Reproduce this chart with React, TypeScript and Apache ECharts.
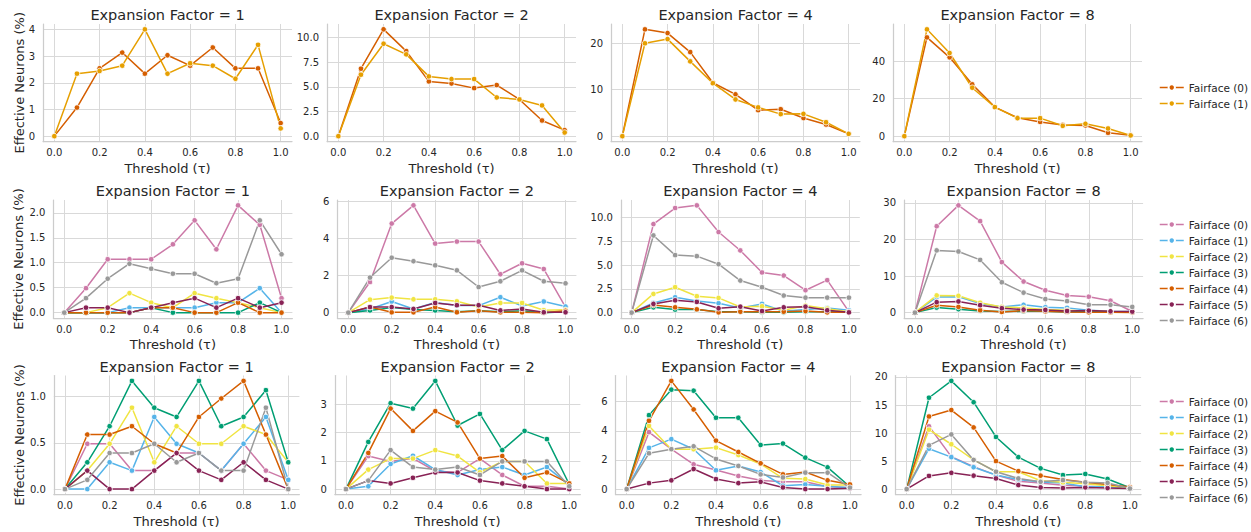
import React, { useEffect, useRef } from "react";
import * as echarts from "echarts";

// Threshold values (τ) shared by every panel
const thresholds = [0, 0.1, 0.2, 0.3, 0.4, 0.5, 0.6, 0.7, 0.8, 0.9, 1.0];
const expansionFactors = [1, 2, 4, 8];

const twoGroupNames = ["Fairface (0)", "Fairface (1)"];
const sevenGroupNames = [
  "Fairface (0)",
  "Fairface (1)",
  "Fairface (2)",
  "Fairface (3)",
  "Fairface (4)",
  "Fairface (5)",
  "Fairface (6)",
];
const twoGroupColors = ["#d55e00", "#e69f00"];
const sevenGroupColors = ["#cc79a7", "#56b4e9", "#f0e442", "#009e73", "#d55e00", "#882255", "#999999"];

// Row 1: two groups, one array per group
const row1Ef1 = [
  [0, 1.07, 2.54, 3.13, 2.34, 3.03, 2.64, 3.32, 2.54, 2.54, 0.49],
  [0, 2.34, 2.44, 2.64, 4.0, 2.34, 2.73, 2.64, 2.15, 3.42, 0.29],
];
const row1Ef2 = [
  [0, 6.85, 10.85, 8.64, 5.56, 5.35, 4.88, 5.19, 3.73, 1.59, 0.61],
  [0, 6.24, 9.39, 8.31, 6.07, 5.8, 5.8, 3.93, 3.73, 3.12, 0.37],
];
const row1Ef4 = [
  [0, 23.0, 22.2, 18.1, 11.5, 9.0, 5.6, 5.8, 3.9, 2.5, 0.5],
  [0, 20.0, 20.9, 16.1, 11.4, 7.9, 6.2, 4.75, 4.8, 3.0, 0.5],
];
const row1Ef8 = [
  [0, 52.6, 42.0, 27.6, 15.5, 9.8, 7.6, 6.0, 5.7, 1.8, 0.5],
  [0, 56.9, 44.3, 25.8, 15.5, 9.6, 9.6, 5.5, 6.6, 4.1, 0.4],
];

// Row 2: seven groups
const row2Ef1 = [
  [0, 0.49, 1.07, 1.07, 1.07, 1.37, 1.85, 1.27, 2.15, 1.76, 0.29],
  [0, 0, 0, 0.1, 0.1, 0.1, 0.1, 0.2, 0.2, 0.49, 0],
  [0, 0, 0.1, 0.39, 0.2, 0.1, 0.39, 0.29, 0.2, 0.1, 0],
  [0, 0, 0, 0, 0.1, 0, 0, 0, 0, 0.2, 0],
  [0, 0, 0, 0, 0.1, 0.1, 0, 0, 0.2, 0, 0],
  [0, 0.1, 0.1, 0, 0.1, 0.2, 0.29, 0.1, 0.29, 0.1, 0.2],
  [0, 0.29, 0.68, 0.98, 0.88, 0.78, 0.78, 0.59, 0.68, 1.85, 1.17],
];
const row2Ef2 = [
  [0, 1.65, 4.8, 5.78, 3.72, 3.83, 3.83, 2.07, 2.66, 2.35, 0.3],
  [0, 0.2, 0.6, 0.2, 0.55, 0.38, 0.38, 0.83, 0.36, 0.6, 0.33],
  [0, 0.7, 0.81, 0.72, 0.72, 0.61, 0.3, 0.52, 0.52, 0.13, 0.15],
  [0, 0.12, 0.27, 0.17, 0.12, 0.05, 0.1, 0.05, 0.1, 0, 0.05],
  [0, 0.3, 0.02, 0.02, 0.3, 0.02, 0.1, 0.02, 0.02, 0, 0.1],
  [0, 0.3, 0.3, 0.2, 0.52, 0.4, 0.4, 0.12, 0.2, 0.02, 0.02],
  [0, 1.89, 2.96, 2.77, 2.55, 2.28, 1.38, 1.69, 2.28, 1.69, 1.58],
];
const row2Ef4 = [
  [0, 9.33, 11.02, 11.3, 8.49, 6.55, 4.23, 3.91, 2.36, 3.42, 0.1],
  [0, 1.02, 1.62, 1.23, 0.99, 0.49, 0.92, 0.14, 0.32, 0.49, 0.25],
  [0, 1.97, 2.68, 1.73, 1.55, 0.6, 0.67, 0.25, 0.74, 0.42, 0.1],
  [0, 0.56, 0.32, 0.32, 0.1, 0.1, 0.03, 0.03, 0.1, 0.1, 0.03],
  [0, 0.8, 0.56, 0.35, 0.03, 0.1, 0.1, 0.1, 0.17, 0.03, 0.03],
  [0, 0.92, 1.3, 1.13, 0.46, 0.63, 0.17, 0.56, 0.63, 0.25, 0.03],
  [0, 8.13, 6.06, 5.95, 5.1, 3.38, 2.68, 1.8, 1.58, 1.58, 1.58],
];
const row2Ef8 = [
  [0, 23.6, 29.3, 25.0, 13.8, 8.5, 6.1, 4.7, 4.35, 3.25, 0.3],
  [0, 4.26, 4.35, 2.5, 1.57, 2.13, 1.48, 1.3, 0.65, 0.37, 0.28],
  [0, 4.7, 4.6, 2.7, 1.57, 1.3, 0.83, 0.65, 0.37, 0.28, 0.2],
  [0, 1.39, 0.93, 0.46, 0.28, 0.37, 0.37, 0.2, 0.28, 0.1, 0.1],
  [0, 2.04, 1.57, 0.65, 0.2, 0.55, 0.37, 0.2, 0.1, 0.1, 0.05],
  [0, 2.87, 3.05, 2.04, 1.2, 0.83, 0.74, 0.46, 0.55, 0.37, 0.28],
  [0, 17.0, 16.7, 14.4, 8.3, 5.46, 3.7, 3.15, 2.13, 2.13, 1.57],
];

// Row 3: seven groups
const row3Ef1 = [
  [0, 0.49, 0.49, 0.2, 0.2, 0.39, 0.39, 0.2, 0.49, 0.2, 0.1],
  [0, 0, 0.29, 0.2, 0.78, 0.49, 0.39, 0.2, 0.49, 0.78, 0.1],
  [0, 0.2, 0.49, 0.88, 0.29, 0.68, 0.49, 0.49, 0.68, 0.59, 0.29],
  [0, 0.29, 0.68, 1.17, 0.88, 0.78, 1.17, 0.68, 0.78, 1.07, 0.29],
  [0, 0.59, 0.59, 0.68, 0.49, 0.39, 0.78, 0.98, 1.17, 0.59, 0],
  [0, 0.2, 0, 0, 0.2, 0.39, 0.2, 0.1, 0.29, 0.1, 0],
  [0, 0.1, 0.39, 0.39, 0.49, 0.29, 0.39, 0.2, 0.2, 0.88, 0],
];
const row3Ef2 = [
  [0, 1.17, 0.98, 1.09, 0.64, 0.59, 1.08, 0.5, 0.1, 0.1, 0],
  [0, 0.1, 0.89, 1.18, 0.69, 0.5, 0.69, 0.78, 0.5, 0.78, 0.14],
  [0, 0.69, 1.08, 1.08, 1.38, 1.17, 0.59, 0.98, 0.98, 0.2, 0.2],
  [0, 1.67, 3.04, 2.85, 3.83, 2.25, 2.66, 1.38, 2.06, 1.77, 0.17],
  [0, 1.28, 2.85, 2.06, 2.76, 2.36, 1.08, 1.17, 0.4, 0.59, 0.2],
  [0, 0.3, 0.2, 0.4, 0.59, 0.59, 0.3, 0.2, 0.1, 0, 0],
  [0, 0.3, 1.38, 0.78, 0.69, 0.78, 0.5, 0.98, 0.98, 0.98, 0.1],
];
const row3Ef4 = [
  [0, 3.91, 2.74, 1.7, 1.31, 0.9, 0.6, 0.5, 0.5, 0.16, 0.1],
  [0, 2.83, 3.43, 2.74, 1.29, 1.59, 1.17, 0.23, 0.32, 0.2, 0.1],
  [0, 4.34, 2.74, 2.74, 2.85, 2.34, 1.72, 0.74, 0.69, 0.28, 0.28],
  [0, 5.08, 6.83, 6.76, 4.9, 4.9, 3.03, 3.13, 2.16, 1.49, 0.16],
  [0, 4.69, 7.43, 5.47, 3.33, 2.55, 1.77, 1.01, 1.17, 0.6, 0.32],
  [0, 0.41, 0.6, 1.38, 0.69, 0.41, 0.5, 0.11, 0, 0, 0.05],
  [0, 2.46, 2.74, 2.94, 2.07, 1.59, 1.01, 0.8, 1.13, 1.13, 0.1],
];
const row3Ef8 = [
  [0, 11.2, 5.8, 4.0, 2.5, 1.4, 1.1, 0.7, 0.5, 0.36, 0.1],
  [0, 7.2, 5.7, 3.9, 2.5, 1.7, 1.26, 1.1, 0.42, 0.42, 0.1],
  [0, 10.6, 8.0, 5.2, 3.1, 3.1, 1.5, 1.2, 0.96, 0.6, 0.24],
  [0, 16.3, 19.3, 15.5, 9.3, 5.7, 3.7, 2.5, 2.7, 1.8, 0.24],
  [0, 12.95, 14.1, 11.0, 5.0, 3.2, 2.4, 1.7, 1.2, 0.84, 0.36],
  [0, 2.35, 2.9, 2.4, 1.9, 0.72, 0.3, 0.18, 0.3, 0.18, 0.1],
  [0, 7.8, 9.75, 5.2, 3.1, 1.9, 1.3, 1.6, 1.2, 1.1, 0.1],
];

// Tick labels
const xTickLabels = ["0.0", "0.2", "0.4", "0.6", "0.8", "1.0"];
const yTickLabelsRow1 = [
  ["0", "1", "2", "3", "4"],
  ["0.0", "2.5", "5.0", "7.5", "10.0"],
  ["0", "10", "20"],
  ["0", "20", "40"],
];
const yTickLabelsRow2 = [
  ["0.0", "0.5", "1.0", "1.5", "2.0"],
  ["0", "2", "4", "6"],
  ["0.0", "2.5", "5.0", "7.5", "10.0"],
  ["0", "10", "20", "30"],
];
const yTickLabelsRow3 = [
  ["0.0", "0.5", "1.0"],
  ["0", "1", "2", "3"],
  ["0", "2", "4", "6"],
  ["0", "5", "10", "15", "20"],
];

// Layout: each row of panels has its own column positions
const FONT = "DejaVu Sans";
const TEXT = "#262626";
const GRID = "#d9d9d9";
const SPINE = "#cccccc";
const ROW_LAYOUT = [
  { lefts: [43, 327, 611, 893], width: 249, top: 24, height: 117.5, yNameGap: 17.5, titleY: 15, legendTop: 77 },
  { lefts: [53.4, 337.4, 620.8, 904.1], width: 239, top: 200, height: 118, yNameGap: 28, titleY: 191, legendTop: 214 },
  { lefts: [53.8, 334.8, 615.5, 895.5], width: 245.6, top: 375.5, height: 119, yNameGap: 28, titleY: 367, legendTop: 391 },
];

function labelFor(labels: string[]) {
  const values = labels.map(Number);
  return (v: number) => {
    const i = values.findIndex((t) => Math.abs(t - v) < 1e-9);
    return i >= 0 ? labels[i] : "";
  };
}

function buildOption() {
  const rows = [
    { panels: [row1Ef1, row1Ef2, row1Ef4, row1Ef8], names: twoGroupNames, colors: twoGroupColors, yTicks: yTickLabelsRow1 },
    { panels: [row2Ef1, row2Ef2, row2Ef4, row2Ef8], names: sevenGroupNames, colors: sevenGroupColors, yTicks: yTickLabelsRow2 },
    { panels: [row3Ef1, row3Ef2, row3Ef4, row3Ef8], names: sevenGroupNames, colors: sevenGroupColors, yTicks: yTickLabelsRow3 },
  ];

  const grid: any[] = [];
  const xAxis: any[] = [];
  const yAxis: any[] = [];
  const series: any[] = [];
  const graphic: any[] = [];
  const legend: any[] = [];
  const xTickValues = xTickLabels.map(Number);

  rows.forEach((row, r) => {
    const layout = ROW_LAYOUT[r];
    row.panels.forEach((panel, c) => {
      const idx = r * 4 + c;
      const left = layout.lefts[c];
      grid.push({ left, top: layout.top, width: layout.width, height: layout.height, containLabel: false });

      const peak = Math.max(...panel.flat());
      const yLabels = row.yTicks[c];
      const yTickValues = yLabels.map(Number);

      xAxis.push({
        type: "value",
        gridIndex: idx,
        min: -0.05,
        max: 1.05,
        name: "Threshold (τ)",
        nameLocation: "middle",
        nameGap: 20,
        nameMoveOverlap: false,
        nameTextStyle: { fontSize: 13, color: TEXT, fontFamily: FONT },
        axisLine: { show: true, onZero: false, lineStyle: { color: SPINE, width: 1.25 } },
        axisTick: { show: false, customValues: xTickValues },
        axisLabel: {
          customValues: xTickValues,
          formatter: labelFor(xTickLabels),
          margin: 6,
          fontSize: 10,
          color: TEXT,
          fontFamily: FONT,
        },
        splitLine: { show: true, lineStyle: { color: GRID, width: 1 } },
      });

      yAxis.push({
        type: "value",
        gridIndex: idx,
        min: -0.05 * peak,
        max: 1.05 * peak,
        name: c === 0 ? "Effective Neurons (%)" : "",
        nameLocation: "middle",
        nameGap: layout.yNameGap,
        nameRotate: 90,
        nameMoveOverlap: false,
        nameTextStyle: { fontSize: 13, color: TEXT, fontFamily: FONT },
        axisLine: { show: true, onZero: false, lineStyle: { color: SPINE, width: 1.25 } },
        axisTick: { show: false, customValues: yTickValues },
        axisLabel: {
          customValues: yTickValues,
          formatter: labelFor(yLabels),
          margin: 8,
          fontSize: 10,
          color: TEXT,
          fontFamily: FONT,
        },
        splitLine: { show: true, lineStyle: { color: GRID, width: 1 } },
      });

      panel.forEach((values, k) => {
        const color = row.colors[k];
        series.push({
          type: "line",
          name: row.names[k],
          xAxisIndex: idx,
          yAxisIndex: idx,
          data: thresholds.map((t, j) => [t, values[j]]),
          symbol: "circle",
          symbolSize: 5.5,
          showSymbol: true,
          lineStyle: { width: 1.5, color },
          itemStyle: { color, borderColor: "#ffffff", borderWidth: 0.8 },
          emphasis: { disabled: true },
          silent: true,
        });
      });

      graphic.push({
        type: "text",
        x: left + layout.width / 2,
        y: layout.titleY,
        style: {
          text: `Expansion Factor = ${expansionFactors[c]}`,
          fontSize: 14.5,
          fontFamily: FONT,
          fill: TEXT,
          align: "center",
          verticalAlign: "middle",
          textAlign: "center",
          textVerticalAlign: "middle",
        },
      });
    });

    legend.push({
      orient: "vertical",
      left: 1154,
      top: layout.legendTop,
      itemWidth: 24,
      itemHeight: 8,
      itemGap: 5,
      selectedMode: false,
      textStyle: { fontSize: 10.5, color: TEXT, fontFamily: FONT },
      data: row.names.map((name, k) => ({
        name,
        itemStyle: { color: row.colors[k], borderColor: "#ffffff" },
        lineStyle: { color: row.colors[k], width: 1.5 },
      })),
    });
  });

  return {
    animation: false,
    backgroundColor: "#ffffff",
    textStyle: { fontFamily: FONT },
    grid,
    xAxis,
    yAxis,
    series,
    legend,
    graphic,
  };
}

export default function App() {
  const ref = useRef<HTMLDivElement>(null);
  useEffect(() => {
    if (!ref.current) return;
    const chart = echarts.init(ref.current, null, { renderer: "svg" });
    chart.setOption(buildOption() as any);
    return () => chart.dispose();
  }, []);
  return (
    <div
      ref={ref}
      style={{ position: "absolute", left: 0, top: 0, width: 1251, height: 532, background: "#ffffff" }}
    />
  );
}
